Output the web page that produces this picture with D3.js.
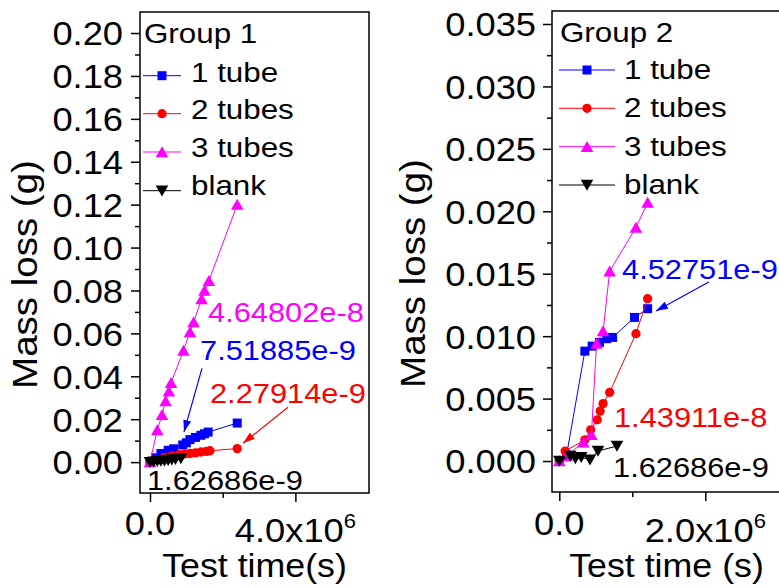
<!DOCTYPE html>
<html><head><meta charset="utf-8">
<script src="https://cdn.jsdelivr.net/npm/d3@7/dist/d3.min.js"></script>
<style>body{margin:0;background:#fff}svg{display:block}</style>
</head><body>
<svg id="c" width="779" height="587"></svg>
<script>
// ---------------- DATA (time in 10^6 s, mass loss in g) ----------------
const seriesNames = ["1 tube", "2 tubes", "3 tubes", "blank"];

// Group 1
const g1Tube1T  = [0, 0.15, 0.3, 0.5, 0.65, 0.9, 1.0, 1.1, 1.25, 1.4, 1.5, 1.6, 2.4];
const g1Tube1M  = [0, 0.002, 0.004, 0.0055, 0.0062, 0.008, 0.009, 0.0105, 0.0115, 0.0125, 0.0132, 0.014, 0.0182];
const g1Tubes2T = [0, 0.2, 0.4, 0.6, 0.8, 0.95, 1.1, 1.25, 1.4, 1.55, 1.65, 2.4];
const g1Tubes2M = [0, 0.001, 0.0022, 0.003, 0.0035, 0.0038, 0.004, 0.0043, 0.0047, 0.005, 0.0053, 0.0063];
const g1Tubes3T = [0, 0.2, 0.33, 0.43, 0.52, 0.58, 0.92, 1.1, 1.2, 1.42, 1.5, 1.62, 2.4];
const g1Tubes3M = [0, 0.015, 0.022, 0.0285, 0.033, 0.037, 0.052, 0.0606, 0.0653, 0.076, 0.08, 0.0845, 0.12];
const g1BlankT  = [0, 0.1, 0.2, 0.3, 0.4, 0.5, 0.6, 0.7, 0.85];
const g1BlankM  = [0, 0.0002, 0.0004, 0.0005, 0.0007, 0.0009, 0.0011, 0.0013, 0.0017];

// Group 2
const g2Tube1T  = [0, 0.1, 0.35, 0.45, 0.55, 0.65, 0.73, 1.03, 1.21];
const g2Tube1M  = [0, 0.0005, 0.0088, 0.0092, 0.0095, 0.0098, 0.0099, 0.0115, 0.0122];
const g2Tubes2T = [0, 0.08, 0.35, 0.43, 0.52, 0.56, 0.6, 0.69, 1.05, 1.21];
const g2Tubes2M = [0, 0.0008, 0.0017, 0.0025, 0.0033, 0.004, 0.0046, 0.0055, 0.0102, 0.013];
const g2Tubes3T = [0, 0.1, 0.33, 0.44, 0.51, 0.6, 0.69, 1.05, 1.21];
const g2Tubes3M = [0, 0.0004, 0.0015, 0.0021, 0.0094, 0.0104, 0.0152, 0.0187, 0.0207];
const g2BlankT  = [0, 0.15, 0.22, 0.3, 0.42, 0.53, 0.79];
const g2BlankM  = [0, 0.0004, 0.0002, 0.0003, 0.0001, 0.0008, 0.0012];

// Tick values / labels
const g1YMajor = [0, 0.02, 0.04, 0.06, 0.08, 0.10, 0.12, 0.14, 0.16, 0.18, 0.20];
const g1YMinor = [0.01, 0.03, 0.05, 0.07, 0.09, 0.11, 0.13, 0.15, 0.17, 0.19];
const g1XMajor = [0, 4];
const g1XMinor = [2];
const g1XLabels = ["0.0", "4.0x10"];
const g2YMajor = [0, 0.005, 0.010, 0.015, 0.020, 0.025, 0.030, 0.035];
const g2YMinor = [0.0025, 0.0075, 0.0125, 0.0175, 0.0225, 0.0275, 0.0325];
const g2XMajor = [0, 2];
const g2XMinor = [1];
const g2XLabels = ["0.0", "2.0x10"];

// Annotation texts (fitted slopes)
const g1Notes = ["4.64802e-8", "7.51885e-9", "2.27914e-9", "1.62686e-9"];
const g2Notes = ["4.52751e-9", "1.43911e-8", "1.62686e-9"];

// ---------------- DRAWING ----------------
const SX = 1.1;
const FONT = "'Liberation Sans', Arial, Helvetica, sans-serif";
const colors = ["#0000ff", "#ff0000", "#ff00ff", "#000000"];
const shapes = ["square", "circle", "up", "down"];
const svg = d3.select("#c");

const defs = svg.append("defs");
colors.forEach((c, i) => {
  defs.append("marker").attr("id", "ah" + i)
    .attr("viewBox", "0 0 12 8").attr("refX", 12).attr("refY", 4)
    .attr("markerWidth", 12).attr("markerHeight", 8).attr("markerUnits", "userSpaceOnUse")
    .attr("orient", "auto")
    .append("path").attr("d", "M0,0L12,4L0,8Z").attr("fill", c);
});

function txt(parent, x, y, str, size, anchor, color, rot) {
  return parent.append("text")
    .attr("transform", `translate(${x},${y})` + (rot ? " rotate(-90)" : "") + ` scale(${SX},1)`)
    .attr("font-family", FONT).attr("font-size", size)
    .attr("text-anchor", anchor || "start").attr("fill", color || "#000")
    .text(str);
}

function symPath(type) {
  switch (type) {
    case "square": return "M-4.5,-4.5h9v9h-9z";
    case "circle": return d3.symbol(d3.symbolCircle, 68)();
    case "up": return "M0,-5.8L6.3,5.2L-6.3,5.2Z";
    case "down": return "M0,5.8L6.3,-5.2L-6.3,-5.2Z";
  }
}

function panel(cfg) {
  const x = d3.scaleLinear().domain(cfg.xDom).range([cfg.left, cfg.right]);
  const y = d3.scaleLinear().domain(cfg.yDom).range([cfg.bottom, cfg.top]);
  const g = svg.append("g");

  // y axis major
  const ya = g.append("g").attr("transform", `translate(${cfg.left},0)`)
    .call(d3.axisLeft(y).tickValues(cfg.yMajor).tickSize(9).tickPadding(cfg.yPad)
      .tickFormat(d3.format(cfg.yFmt)));
  ya.attr("font-size", 33).attr("font-family", FONT);
  ya.select(".domain").remove();
  ya.selectAll("line").attr("stroke", "#000").attr("stroke-width", 1.5);
  ya.selectAll("text").each(function () {
    const t = d3.select(this);
    t.attr("x", (+t.attr("x")) / SX).attr("transform", `scale(${SX},1)`).attr("dy", "0.36em").attr("fill", "#000");
  });
  const ym = g.append("g").attr("transform", `translate(${cfg.left},0)`)
    .call(d3.axisLeft(y).tickValues(cfg.yMinor).tickSize(5).tickFormat(""));
  ym.select(".domain").remove();
  ym.selectAll("line").attr("stroke", "#000").attr("stroke-width", 1.5);

  // x axis
  const xa = g.append("g").attr("transform", `translate(0,${cfg.bottom})`)
    .call(d3.axisBottom(x).tickValues(cfg.xMajor).tickSize(9).tickFormat(""));
  xa.select(".domain").remove();
  xa.selectAll("line").attr("stroke", "#000").attr("stroke-width", 1.5);
  const xm = g.append("g").attr("transform", `translate(0,${cfg.bottom})`)
    .call(d3.axisBottom(x).tickValues(cfg.xMinor).tickSize(5).tickFormat(""));
  xm.select(".domain").remove();
  xm.selectAll("line").attr("stroke", "#000").attr("stroke-width", 1.5);

  // x tick labels
  cfg.xMajor.forEach((v, i) => {
    const lab = cfg.xLabels[i];
    if (i === 0) {
      txt(g, x(v), 535, lab, 33, "middle");
    } else {
      const t = txt(g, x(v), 542, "", 33, "middle");
      t.append("tspan").text(lab);
      t.append("tspan").attr("font-size", 20).attr("dy", -14).text("6");
    }
  });

  // frame
  g.append("rect").attr("x", cfg.left).attr("y", cfg.top)
    .attr("width", cfg.right - cfg.left).attr("height", cfg.bottom - cfg.top)
    .attr("fill", "none").attr("stroke", "#000").attr("stroke-width", 1.5);

  // axis titles
  txt(g, cfg.yTitleX, (cfg.top + cfg.bottom) / 2 + 22, "Mass loss (g)", 35, "middle", "#000", true);
  txt(g, cfg.xTitleCx, 577, cfg.xTitle, 32.5, "middle");

  // series
  const line = d3.line().x(d => x(d[0])).y(d => y(d[1]));
  cfg.series.forEach((s, i) => {
    const pts = s.t.map((t, k) => [t, s.m[k]]);
    g.append("path").datum(pts).attr("d", line).attr("fill", "none")
      .attr("stroke", colors[i]).attr("stroke-width", 1);
    g.selectAll(null).data(pts).enter().append("path")
      .attr("transform", d => `translate(${x(d[0])},${y(d[1])})`)
      .attr("d", symPath(shapes[i])).attr("fill", colors[i]);
  });

  // annotations
  cfg.notes.forEach(n => {
    txt(g, x(n.x), y(n.y), n.text, 28, "start", colors[n.c]);
  });
  cfg.arrows.forEach(a => {
    g.append("line").attr("x1", x(a.x1)).attr("y1", y(a.y1)).attr("x2", x(a.x2)).attr("y2", y(a.y2))
      .attr("stroke", colors[a.c]).attr("stroke-width", 1.2).attr("marker-end", `url(#ah${a.c})`);
  });

  // legend
  const L = cfg.legend;
  txt(g, L.x, L.titleY, cfg.group, 28.5, "start");
  seriesNames.forEach((nm, i) => {
    const sy = L.symY[i];
    g.append("line").attr("x1", L.x1).attr("x2", L.x2).attr("y1", sy).attr("y2", sy)
      .attr("stroke", colors[i]).attr("stroke-width", 1);
    g.append("path").attr("transform", `translate(${(L.x1 + L.x2) / 2},${sy})`)
      .attr("d", symPath(shapes[i])).attr("fill", colors[i]);
    txt(g, L.textX, L.textY[i], nm, 28.5, "start");
  });
}

panel({
  group: "Group 1",
  left: 140, right: 369, top: 12, bottom: 493,
  xDom: [-0.275, 6.025], yDom: [-0.0144, 0.2098],
  yMajor: g1YMajor, yMinor: g1YMinor, yFmt: ".2f", yPad: 8,
  xMajor: g1XMajor, xMinor: g1XMinor, xLabels: g1XLabels,
  yTitleX: 37, xTitle: "Test time(s)", xTitleCx: 254.5,
  series: [
    {t: g1Tube1T, m: g1Tube1M}, {t: g1Tubes2T, m: g1Tubes2M},
    {t: g1Tubes3T, m: g1Tubes3M}, {t: g1BlankT, m: g1BlankM}
  ],
  notes: [
    {text: g1Notes[0], x: 1.596, y: 0.0651, c: 2},
    {text: g1Notes[1], x: 1.376, y: 0.0474, c: 0},
    {text: g1Notes[2], x: 1.65, y: 0.0274, c: 1},
    {text: g1Notes[3], x: -0.083, y: -0.013, c: 3}
  ],
  arrows: [
    {x1: 1.43, y1: 0.0437, x2: 0.935, y2: 0.0140, c: 0},
    {x1: 3.796, y1: 0.0256, x2: 2.558, y2: 0.0088, c: 1}
  ],
  legend: {x: 144, titleY: 43, x1: 143, x2: 181, textX: 191, symY: [75.7, 113.7, 152, 190.7], textY: [81.7, 119, 156.7, 195]}
});

panel({
  group: "Group 2",
  left: 552, right: 785, top: 11, bottom: 492,
  xDom: [-0.1, 3.092], yDom: [-0.00248, 0.03604],
  yMajor: g2YMajor, yMinor: g2YMinor, yFmt: ".3f", yPad: 7,
  xMajor: g2XMajor, xMinor: g2XMinor, xLabels: g2XLabels,
  yTitleX: 425, xTitle: "Test time (s)", xTitleCx: 666.5,
  series: [
    {t: g2Tube1T, m: g2Tube1M}, {t: g2Tubes2T, m: g2Tubes2M},
    {t: g2Tubes3T, m: g2Tubes3M}, {t: g2BlankT, m: g2BlankM}
  ],
  notes: [
    {text: g2Notes[0], x: 0.859, y: 0.01458, c: 0},
    {text: g2Notes[1], x: 0.749, y: 0.00272, c: 1},
    {text: g2Notes[2], x: 0.736, y: -0.00128, c: 3}
  ],
  arrows: [
    {x1: 2.048, y1: 0.01434, x2: 1.325, y2: 0.01201, c: 0}
  ],
  legend: {x: 560, titleY: 41.7, x1: 559, x2: 615, textX: 624, symY: [70, 108.3, 146.7, 185], textY: [79, 117.3, 155.7, 194]}
});
</script>
</body></html>
